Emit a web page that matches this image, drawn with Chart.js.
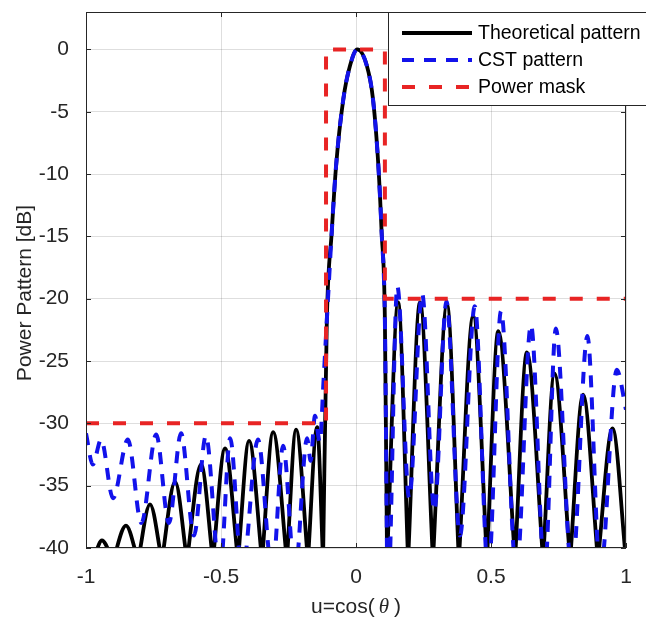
<!DOCTYPE html>
<html>
<head>
<meta charset="utf-8">
<script src="https://cdn.jsdelivr.net/npm/chart.js@4.4.1/dist/chart.umd.min.js"></script>
<style>
  html, body { margin: 0; padding: 0; background: #fff; }
  canvas { display: block; }
</style>
</head>
<body>
<canvas id="chart" width="646" height="622"></canvas>
<script>
const FONT = "'Liberation Sans', Arial, Helvetica, sans-serif";

// axis ticks
const xTicks = [-1, -0.5, 0, 0.5, 1];
const xTickLabels = ['-1', '-0.5', '0', '0.5', '1'];
const yTicks = [-40, -35, -30, -25, -20, -15, -10, -5, 0];
const yTickLabels = ['-40', '-35', '-30', '-25', '-20', '-15', '-10', '-5', '0'];

// theoretical pattern: null positions, side lobe peaks, main lobe samples
const theoNullU = [-0.974, -0.900, -0.807, -0.719, -0.626, -0.530, -0.437, -0.348, -0.256, -0.178, -0.122,
                   0.115, 0.193, 0.285, 0.381, 0.485, 0.589, 0.693, 0.793, 0.896, 1.0];
const theoNullDb = -41;
const theoPeakU = [-0.941, -0.852, -0.763, -0.670, -0.574, -0.485, -0.396, -0.307, -0.222, -0.144, null,
                   0.156, 0.237, 0.337, 0.434, 0.527, 0.633, 0.735, 0.841, 0.950];
const theoPeakDb = [-39.4, -38.2, -36.5, -34.7, -33.3, -32.0, -31.4, -30.7, -30.5, -30.3, null,
                    -20.3, -20.3, -20.5, -21.4, -22.6, -24.3, -26.0, -27.7, -30.4];
const mainU = [-0.108, -0.090, -0.074, -0.047, -0.022, 0.005, 0.040, 0.063, 0.083, 0.095, 0.107];
const mainDb = [-21.7, -14.7, -9.4, -4.0, -1.3, 0, -1.3, -4.0, -9.4, -14.7, -21.7];

// CST pattern
const cstU = [-1.0, -0.975, -0.944, -0.900, -0.845, -0.795, -0.740, -0.693, -0.648, -0.600, -0.556,
              -0.504, -0.466, -0.422, -0.363, -0.310, -0.270, -0.226, -0.181, -0.168, -0.152, -0.134,
              -0.120, -0.108, -0.090, -0.074, -0.047, -0.022, 0.005, 0.040, 0.063, 0.083, 0.095, 0.107,
              0.118, 0.153, 0.197, 0.245, 0.290, 0.335, 0.385, 0.440, 0.490, 0.537, 0.594, 0.648,
              0.699, 0.740, 0.800, 0.857, 0.905, 0.966, 1.0];
const cstDb = [-30.8, -33.3, -31.3, -36.0, -31.3, -38.0, -30.9, -38.0, -30.8, -39.0, -31.0,
               -42, -31.2, -42, -31.3, -42, -31.8, -42, -31.2, -33.0, -29.4, -31.5,
               -26.5, -21.7, -14.7, -9.4, -4.0, -1.3, 0, -1.3, -4.0, -9.4, -14.7, -21.7,
               -44, -19.0, -36, -19.6, -37, -20.2, -39, -20.6, -42, -21.0, -42, -22.1,
               -42, -22.4, -42, -23.0, -42, -25.7, -28.9];

// power mask
const maskU = [-1, -0.111, -0.111, 0.107, 0.107, 1];
const maskDb = [-30, -30, 0, 0, -20, -20];

const legendLabels = ['Theoretical pattern', 'CST pattern', 'Power mask'];

// each lobe of the theoretical pattern is its own piece, split by gaps
const theoData = [];
for (let i = 0; i < theoPeakU.length; i++) {
    theoData.push({ x: theoNullU[i], y: theoNullDb });
    if (theoPeakU[i] === null) {
        mainU.forEach((u, k) => theoData.push({ x: u, y: mainDb[k] }));
    } else {
        theoData.push({ x: theoPeakU[i], y: theoPeakDb[i] });
    }
    theoData.push({ x: theoNullU[i + 1], y: theoNullDb });
    theoData.push({ x: theoNullU[i + 1], y: null });
}

const cstData = cstU.map((u, i) => ({ x: u, y: cstDb[i] }));
const maskData = maskU.map((u, i) => ({ x: u, y: maskDb[i] }));

const AXIS = '#262626';
const RED = 'rgb(232, 36, 36)';
const BLUE = 'rgb(18, 18, 235)';

const framePlugin = {
    id: 'frame',
    afterDraw(chart) {
        const { ctx, chartArea: a, scales } = chart;
        ctx.save();

        // axes box
        ctx.strokeStyle = AXIS;
        ctx.lineWidth = 1;
        ctx.strokeRect(a.left + 0.5, a.top + 0.5, a.right - a.left - 1, a.bottom - a.top - 1);

        // inner tick marks on all four sides
        const len = 5;
        ctx.beginPath();
        xTicks.forEach((v) => {
            const px = Math.round(scales.x.getPixelForValue(v)) + 0.5;
            ctx.moveTo(px, a.bottom);
            ctx.lineTo(px, a.bottom - len);
            ctx.moveTo(px, a.top);
            ctx.lineTo(px, a.top + len);
        });
        yTicks.forEach((v) => {
            const py = Math.round(scales.y.getPixelForValue(v)) + 0.5;
            ctx.moveTo(a.left, py);
            ctx.lineTo(a.left + len, py);
            ctx.moveTo(a.right, py);
            ctx.lineTo(a.right - len, py);
        });
        ctx.stroke();

        // axis titles
        ctx.fillStyle = AXIS;
        ctx.font = `21px ${FONT}`;
        ctx.textBaseline = 'middle';
        ctx.textAlign = 'center';
        ctx.save();
        ctx.translate(25, 293);
        ctx.rotate(-Math.PI / 2);
        ctx.fillText('Power Pattern [dB]', 0, 0);
        ctx.restore();

        const parts = [
            { t: 'u=cos(', f: `21px ${FONT}`, gap: 4 },
            { t: '\u03b8', f: `italic 21px 'Liberation Serif', 'Times New Roman', serif`, gap: 5 },
            { t: ')', f: `21px ${FONT}`, gap: 0 },
        ];
        let total = 0;
        parts.forEach((p) => { ctx.font = p.f; p.w = ctx.measureText(p.t).width; total += p.w + p.gap; });
        let cx = (a.left + a.right) / 2 - total / 2;
        ctx.textAlign = 'left';
        parts.forEach((p) => { ctx.font = p.f; ctx.fillText(p.t, cx, 607); cx += p.w + p.gap; });

        // legend
        const lx = 388, ly = a.top, lw = 300, lh = 93;
        ctx.fillStyle = '#fff';
        ctx.fillRect(lx, ly, lw, lh);
        ctx.strokeStyle = AXIS;
        ctx.lineWidth = 1;
        ctx.strokeRect(lx + 0.5, ly + 0.5, lw, lh);
        ctx.font = `19.5px ${FONT}`;
        ctx.textAlign = 'left';
        ctx.textBaseline = 'middle';
        chart.data.datasets.forEach((ds, i) => {
            const y = ly + 21 + i * 27;
            ctx.strokeStyle = ds.borderColor;
            ctx.lineWidth = ds.borderWidth;
            ctx.setLineDash(ds.borderDash || []);
            ctx.beginPath();
            ctx.moveTo(lx + 14, y);
            ctx.lineTo(lx + 84, y);
            ctx.stroke();
            ctx.setLineDash([]);
            ctx.fillStyle = '#000';
            ctx.fillText(legendLabels[i], lx + 90, y + 1);
        });

        ctx.restore();
    },
};

new Chart(document.getElementById('chart').getContext('2d'), {
    type: 'line',
    data: {
        datasets: [
            {
                data: theoData,
                borderColor: '#000',
                borderWidth: 3.8,
                cubicInterpolationMode: 'monotone',
                spanGaps: false,
                order: 3,
            },
            {
                data: cstData,
                borderColor: BLUE,
                borderWidth: 4,
                borderDash: [12, 10],
                cubicInterpolationMode: 'monotone',
                order: 2,
            },
            {
                data: maskData,
                borderColor: RED,
                borderWidth: 4,
                borderDash: [13, 14],
                tension: 0,
                order: 1,
            },
        ],
    },
    options: {
        responsive: false,
        animation: false,
        layout: { padding: { top: 12, right: 20, left: 0, bottom: 0 } },
        elements: { point: { radius: 0 } },
        datasets: { line: { clip: 0, fill: false } },
        plugins: {
            legend: { display: false },
            tooltip: { enabled: false },
        },
        scales: {
            x: {
                type: 'linear',
                min: -1,
                max: 1,
                afterBuildTicks: (s) => { s.ticks = xTicks.map((v) => ({ value: v })); },
                afterFit: (s) => { s.height = 74; s.paddingLeft = 0; s.paddingRight = 0; },
                ticks: {
                    callback: (v) => xTickLabels[xTicks.indexOf(v)],
                    font: { family: FONT, size: 21 },
                    color: AXIS,
                    padding: 17,
                    maxRotation: 0,
                    autoSkip: false,
                },
                grid: { color: 'rgba(0,0,0,0.13)', drawTicks: false },
                border: { display: false },
            },
            y: {
                type: 'linear',
                min: -40,
                max: 3,
                afterBuildTicks: (s) => { s.ticks = yTicks.map((v) => ({ value: v })); },
                afterFit: (s) => { s.width = 86; s.paddingTop = 0; s.paddingBottom = 0; },
                ticks: {
                    callback: (v) => yTickLabels[yTicks.indexOf(v)],
                    font: { family: FONT, size: 21 },
                    color: AXIS,
                    padding: 17,
                    autoSkip: false,
                },
                grid: { color: 'rgba(0,0,0,0.13)', drawTicks: false },
                border: { display: false },
            },
        },
    },
    plugins: [framePlugin],
});
</script>
</body>
</html>
